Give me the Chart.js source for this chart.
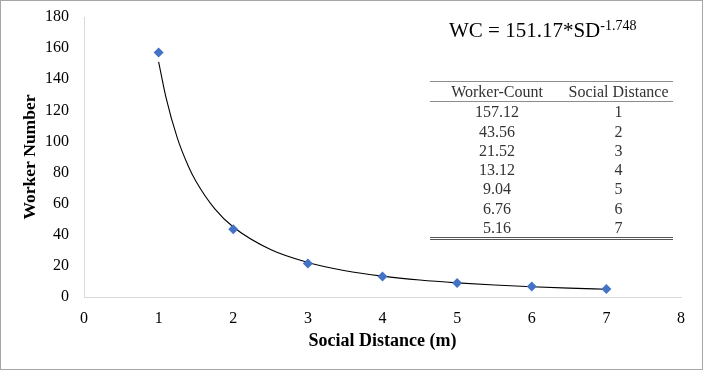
<!DOCTYPE html>
<html lang="en">
<head>
    <meta charset="UTF-8">
    <title>Worker Number vs Social Distance</title>
    <style>
        body {
            margin: 0;
            background: #fff;
        }
        .wrap {
            position: relative;
            width: 703px;
            height: 370px;
        }
        .wrap canvas {
            position: absolute;
            left: 0;
            top: 0;
        }
        .frame {
            position: absolute;
            left: 0;
            top: 0;
            width: 703px;
            height: 370px;
            box-sizing: border-box;
            border: 1px solid #a6a6a6;
            pointer-events: none;
        }
        .equation {
            position: absolute;
            left: 449px;
            top: 18px;
            font-family: "Liberation Serif", serif;
            font-size: 21px;
            color: #000;
            white-space: nowrap;
        }
        .equation sup {
            font-size: 14px;
            vertical-align: 7px;
            line-height: 0;
        }
        .tbl {
            position: absolute;
            left: 430px;
            top: 81px;
            width: 243px;
            font-family: "Liberation Serif", serif;
            font-size: 16px;
            color: #333;
            border-collapse: collapse;
        }
        .tbl th, .tbl td {
            font-weight: normal;
            text-align: center;
            padding: 0;
            height: 19.3px;
            line-height: 19.3px;
        }
        .tbl thead tr {
            border-top: 1.5px solid #8c8c8c;
            border-bottom: 1px solid #8c8c8c;
        }
        .tbl tbody tr:last-child {
            border-bottom: 3px double #555;
        }
    </style>
    <script src="https://cdn.jsdelivr.net/npm/chart.js"></script>
</head>
<body>
    <div class="wrap">
        <canvas id="wcChart" width="703" height="370"></canvas>
        <div class="equation">WC = 151.17*SD<sup>-1.748</sup></div>
        <table class="tbl" id="wcTable">
            <thead>
                <tr><th style="width:134px">Worker-Count</th><th>Social Distance</th></tr>
            </thead>
            <tbody></tbody>
        </table>
        <div class="frame"></div>
    </div>

    <script>
        // measured points
        const socialDistance = [1, 2, 3, 4, 5, 6, 7];
        const workerCount = [157.12, 43.56, 21.52, 13.12, 9.04, 6.76, 5.16];

        // power trendline
        const trendX = [1, 1.1, 1.25, 1.4, 1.5, 1.75, 2, 2.5, 3, 3.5, 4, 4.5, 5, 5.5, 6, 6.5, 7];
        const trendY = [151.2, 128, 102.3, 83.9, 74.4, 56.8, 45, 30.5, 22.2, 16.9, 13.4, 10.9, 9.1, 7.7, 6.6, 5.7, 5.0];

        const xTicks = [0, 1, 2, 3, 4, 5, 6, 7, 8];
        const yTicks = [0, 20, 40, 60, 80, 100, 120, 140, 160, 180];

        // table next to the equation
        const tbody = document.querySelector('#wcTable tbody');
        workerCount.forEach((wc, i) => {
            const tr = document.createElement('tr');
            tr.innerHTML = '<td>' + wc.toFixed(2) + '</td><td>' + socialDistance[i] + '</td>';
            tbody.appendChild(tr);
        });

        const serif = "'Liberation Serif', 'Times New Roman', serif";

        new Chart(document.getElementById('wcChart'), {
            type: 'scatter',
            data: {
                datasets: [{
                    label: 'Worker Number',
                    data: socialDistance.map((x, i) => ({ x: x, y: workerCount[i] })),
                    pointStyle: 'rectRot',
                    pointRadius: 5,
                    pointHoverRadius: 5,
                    backgroundColor: '#4472C4',
                    borderColor: '#4472C4',
                    borderWidth: 0,
                    order: 0
                }, {
                    type: 'line',
                    label: 'Power trend',
                    data: trendX.map((x, i) => ({ x: x, y: trendY[i] })),
                    borderColor: '#000',
                    borderWidth: 1.1,
                    pointRadius: 0,
                    fill: false,
                    cubicInterpolationMode: 'monotone',
                    order: 1
                }]
            },
            options: {
                responsive: false,
                devicePixelRatio: 1,
                animation: false,
                layout: {
                    padding: { top: 17, right: 22, left: 0, bottom: 0 }
                },
                plugins: {
                    legend: { display: false },
                    tooltip: { enabled: false }
                },
                scales: {
                    x: {
                        type: 'linear',
                        min: 0,
                        max: 8,
                        afterBuildTicks: (scale) => {
                            scale.ticks = xTicks.map(v => ({ value: v }));
                        },
                        afterFit: (scale) => { scale.height = 73; },
                        grid: { display: false, drawTicks: false },
                        border: { display: true, color: '#d9d9d9', width: 1 },
                        ticks: {
                            padding: 12,
                            color: '#000',
                            font: { family: serif, size: 16 }
                        },
                        title: {
                            display: true,
                            text: 'Social Distance (m)',
                            color: '#000',
                            font: { family: serif, size: 18, weight: 'bold' },
                            padding: { top: 0, bottom: 18 }
                        }
                    },
                    y: {
                        min: 0,
                        max: 180,
                        afterBuildTicks: (scale) => {
                            scale.ticks = yTicks.map(v => ({ value: v }));
                        },
                        afterFit: (scale) => {
                            scale.width = 84;
                            scale.paddingTop = 0;
                            scale.paddingBottom = 0;
                        },
                        grid: { display: false, drawTicks: false },
                        border: { display: true, color: '#d9d9d9', width: 1 },
                        ticks: {
                            padding: 15,
                            color: '#000',
                            font: { family: serif, size: 16 }
                        },
                        title: {
                            display: true,
                            text: 'Worker Number',
                            color: '#000',
                            font: { family: serif, size: 17.5, weight: 'bold' },
                            padding: { top: 20, bottom: 0 }
                        }
                    }
                }
            }
        });
    </script>
</body>
</html>
